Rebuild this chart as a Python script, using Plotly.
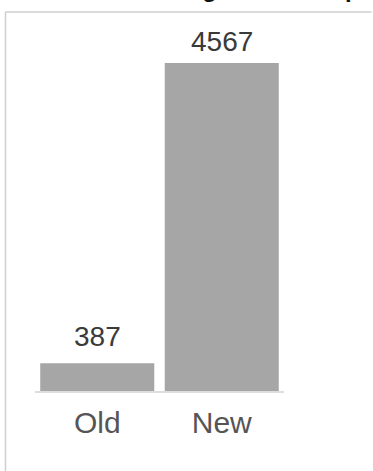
import plotly.graph_objects as go

# Data
categories = ["Old", "New"]
values = [387, 4567]
value_labels = ["387", "4567"]
title_text = "Page Size Comparison"

W, H = 373, 471
M_L, M_R, M_T, M_B = 35, 89, 50, 80
plot_h = H - M_T - M_B
y_max = values[1] * plot_h / 328.0

FONT = "Liberation Sans, Arial, sans-serif"

fig = go.Figure()
fig.add_trace(go.Bar(
    x=categories,
    y=values,
    marker=dict(color="#a6a6a6", line=dict(width=0)),
    hoverinfo="skip",
))

# value labels above each bar
label_shift = [9, 4]
for cat, v, lab, s in zip(categories, values, value_labels, label_shift):
    fig.add_annotation(
        x=cat, y=v, text=lab, showarrow=False,
        xref="x", yref="y", yanchor="bottom", yshift=s,
        font=dict(family=FONT, size=28, color="#3a3a3a"),
    )

def px_x(p):
    return (p - M_L) / (W - M_L - M_R)

def px_y(p):
    return (H - M_B - p) / plot_h

# title (mostly above the visible area)
fig.add_annotation(
    x=px_x(171), y=px_y(4.5), xref="paper", yref="paper",
    xanchor="left", yanchor="bottom", showarrow=False,
    text="<b>" + title_text + "</b>",
    font=dict(family=FONT, size=24, color="#111111"),
)

# outer frame: left and top edges
frame = dict(color="#cfcfcf", width=1.5)
fig.add_shape(type="line", xref="paper", yref="paper",
              x0=px_x(5.5), x1=px_x(5.5), y0=px_y(12), y1=px_y(471),
              line=frame, layer="below")
fig.add_shape(type="line", xref="paper", yref="paper",
              x0=px_x(5.5), x1=px_x(371.5), y0=px_y(12), y1=px_y(12),
              line=frame, layer="below")

fig.update_layout(
    width=W, height=H,
    margin=dict(l=M_L, r=M_R, t=M_T, b=M_B, pad=0),
    paper_bgcolor="white", plot_bgcolor="white",
    bargap=0.084,
    showlegend=False,
    xaxis=dict(
        showgrid=False, zeroline=False, showline=True,
        linecolor="#dddddd", linewidth=2,
        ticks="", tickfont=dict(family=FONT, size=30, color="#555555"),
        ticklabelstandoff=4,
    ),
    yaxis=dict(visible=False, range=[0, y_max], showgrid=False, zeroline=False),
)

fig.write_html("out.html")
